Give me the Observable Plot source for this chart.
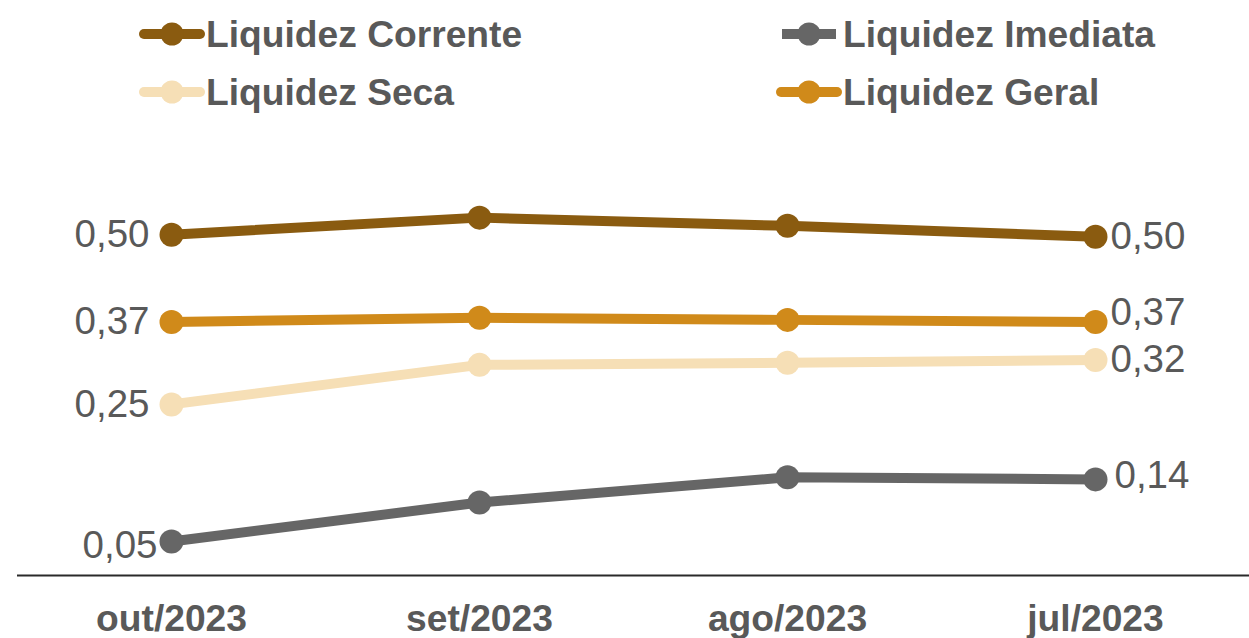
<!DOCTYPE html>
<html>
<head>
<meta charset="utf-8">
<script src="https://cdn.jsdelivr.net/npm/d3@7"></script>
<script src="https://cdn.jsdelivr.net/npm/@observablehq/plot@0.6"></script>
<style>
  html, body { margin: 0; padding: 0; background: #fff; }
  body { width: 1249px; height: 638px; overflow: hidden; font-family: "Liberation Sans", Arial, sans-serif; }
  #legend { display: block; }
</style>
</head>
<body>
<div id="chart"></div>
<script>
// ---- data ----
const months = ["out/2023", "set/2023", "ago/2023", "jul/2023"];
const seriesNames = ["Liquidez Corrente", "Liquidez Imediata", "Liquidez Seca", "Liquidez Geral"];
const corrente = [0.500, 0.525, 0.513, 0.497];
const imediata = [0.050, 0.107, 0.144, 0.141];
const seca     = [0.251, 0.309, 0.312, 0.316];
const geral    = [0.372, 0.378, 0.375, 0.372];
const seriesColors = ["#8A5B10", "#666666", "#F6DFB6", "#D08A1A"];

const values = [corrente, imediata, seca, geral];
const rows = [];
seriesNames.forEach((s, k) => months.forEach((m, i) => rows.push({series: s, month: m, value: values[k][i], i})));

const textColor = "#595959";
const fmt = d => d.value.toFixed(2).replace(".", ",");
const W = 1249;
const labelSize = 38.5;

// ---- legend (above the plot) ----
const legendH = 130;
const legend = d3.create("svg").attr("id", "legend").attr("width", W).attr("height", legendH);
const legendPos = [[172, 34], [809, 34], [172, 92], [809, 92]];
const caps = ["round", "butt", "round", "round"];
seriesNames.forEach((s, k) => {
  const [cx, cy] = legendPos[k];
  const g = legend.append("g");
  const half = caps[k] === "butt" ? 27 : 28;
  g.append("line").attr("x1", cx - half).attr("x2", cx + half).attr("y1", cy).attr("y2", cy)
    .attr("stroke", seriesColors[k]).attr("stroke-width", 10).attr("stroke-linecap", caps[k]);
  g.append("circle").attr("cx", cx).attr("cy", cy).attr("r", 11.5).attr("fill", seriesColors[k]);
  g.append("text").attr("x", cx + 34).attr("y", cy + 13).text(s)
    .attr("font-family", "Liberation Sans, Arial, sans-serif").attr("font-weight", "bold")
    .attr("font-size", 37.2).attr("fill", textColor);
});

// ---- plot ----
const colorScale = {domain: seriesNames, range: seriesColors};
const first = rows.filter(d => d.i === 0);
const last = rows.filter(d => d.i === months.length - 1);

const plot = Plot.plot({
  width: W,
  height: 508,
  marginLeft: 17,
  marginRight: 0,
  marginTop: 36,
  marginBottom: 63,
  style: {fontFamily: "Liberation Sans, Arial, sans-serif", color: textColor, background: "transparent"},
  x: {type: "point", domain: months, padding: 0.5},
  y: {domain: [0, 0.6], axis: null},
  color: colorScale,
  marks: [
    Plot.ruleY([0], {stroke: "#2a2a2a", strokeWidth: 2}),
    Plot.axisX({tickSize: 0, tickPadding: 29, fontSize: 37.2, fontWeight: "bold", label: null}),
    Plot.line(rows, {x: "month", y: "value", z: "series", stroke: "series", strokeWidth: 10, strokeLinejoin: "round", strokeLinecap: "round"}),
    Plot.dot(rows, {x: "month", y: "value", fill: "series", r: 12, stroke: null}),
    // left labels
    Plot.text(first.filter(d => d.series !== "Liquidez Imediata"), {x: "month", y: "value", text: fmt, textAnchor: "end", dx: -22, fontSize: labelSize, fill: textColor}),
    Plot.text(first.filter(d => d.series === "Liquidez Imediata"), {x: "month", y: "value", text: fmt, textAnchor: "end", dx: -14, dy: 4, fontSize: labelSize, fill: textColor}),
    // right labels
    Plot.text(last.filter(d => d.series !== "Liquidez Geral" && d.series !== "Liquidez Imediata"), {x: "month", y: "value", text: fmt, textAnchor: "start", dx: 15, fontSize: labelSize, fill: textColor}),
    Plot.text(last.filter(d => d.series === "Liquidez Geral"), {x: "month", y: "value", text: fmt, textAnchor: "start", dx: 15, dy: -9, fontSize: labelSize, fill: textColor}),
    Plot.text(last.filter(d => d.series === "Liquidez Imediata"), {x: "month", y: "value", text: fmt, textAnchor: "start", dx: 19, dy: -4, fontSize: labelSize, fill: textColor})
  ]
});

const chart = document.getElementById("chart");
chart.appendChild(legend.node());
chart.appendChild(plot);
</script>
</body>
</html>
